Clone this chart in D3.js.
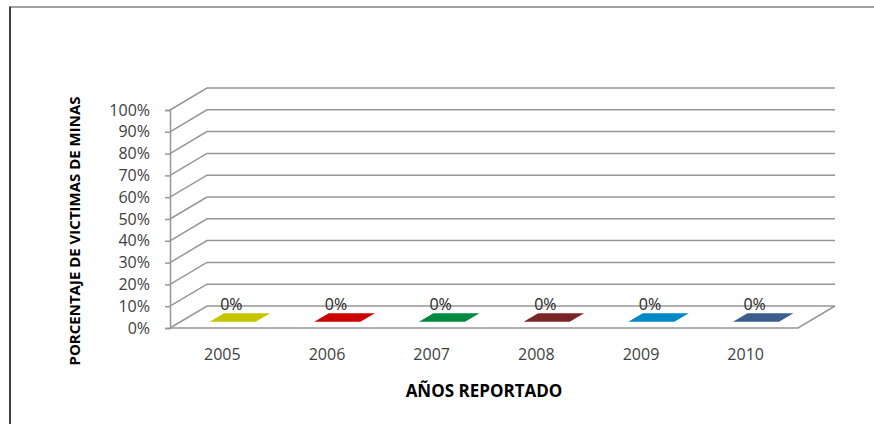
<!DOCTYPE html>
<html><head><meta charset="utf-8">
<script src="https://cdn.jsdelivr.net/npm/d3@7"></script>
<style>html,body{margin:0;padding:0;background:#fff;}svg{display:block;}</style>
</head><body>
<script>
const years = ["2005","2006","2007","2008","2009","2010"];
const values = [0,0,0,0,0,0];
const valueLabels = ["0%","0%","0%","0%","0%","0%"];
const barColors = ["#c6c600","#cc0000","#008a3e","#7b2626","#0089c6","#3b5e8c"];
const yTicks = [0,0.1,0.2,0.3,0.4,0.5,0.6,0.7,0.8,0.9,1];
const yTitle = "PORCENTAJE DE VICTIMAS DE MINAS";
const xTitle = "AÑOS REPORTADO";

const W = 874, H = 424;
const svg = d3.select("body").append("svg").attr("width", W).attr("height", H);
svg.append("rect").attr("width", W).attr("height", H).attr("fill", "#fff");

// frame
svg.append("line").attr("x1",10).attr("y1",7).attr("x2",W).attr("y2",7).attr("stroke","#808080").attr("stroke-width",1.5);
svg.append("line").attr("x1",10).attr("y1",6.5).attr("x2",10).attr("y2",H).attr("stroke","#404040").attr("stroke-width",2);

const x = d3.scaleBand().domain(years).range([170, 798]);
const xBar = d3.scaleBand().domain(years).range([170, 798]).paddingInner(0.56).paddingOuter(0.28);
const y = d3.scaleLinear().domain([0,1]).range([328, 110]);
const DX = 37, DY = -22;
const gridColor = "#969696";
const font = "'Open Sans', sans-serif";

const g = svg.append("g");
yTicks.forEach(t => {
  const yy = y(t);
  g.append("path")
    .attr("d", `M${x.range()[0]},${yy} L${x.range()[0]+DX},${yy+DY} L${x.range()[1]+DX},${yy+DY}`)
    .attr("fill","none").attr("stroke",gridColor).attr("stroke-width",1.5);
});
g.append("path")
  .attr("d", `M${x.range()[0]},${y(0)} L${x.range()[1]},${y(0)} L${x.range()[1]+DX},${y(0)+DY}`)
  .attr("fill","none").attr("stroke",gridColor).attr("stroke-width",1.5);

const yAxis = d3.axisLeft(y).tickValues(yTicks).tickFormat(d3.format(".0%")).tickSize(5).tickPadding(15);
const ya = svg.append("g").attr("transform", `translate(${x.range()[0]},0)`).call(yAxis);
ya.select(".domain").attr("stroke", gridColor).attr("stroke-width",1.5);
ya.selectAll(".tick line").attr("stroke", gridColor).attr("stroke-width",1.5);
ya.selectAll(".tick text").attr("fill","#404040").style("font-family",font).style("font-size","16px");

const f0 = 0.28, f1 = 0.67;
years.forEach((yr, i) => {
  const x0 = xBar(yr), x1 = x0 + xBar.bandwidth(), yy = y(values[i]);
  const pts = [[x0+DX*f0, yy+DY*f0],[x1+DX*f0, yy+DY*f0],[x1+DX*f1, yy+DY*f1],[x0+DX*f1, yy+DY*f1]];
  svg.append("path").attr("d", d3.line()(pts) + "Z").attr("fill", barColors[i]);
});

years.forEach((yr, i) => {
  svg.append("text").attr("x", x(yr) + x.bandwidth()/2 + 9).attr("y", y(values[i]) - 18)
    .attr("text-anchor","middle").attr("fill","#262626")
    .style("font-family",font).style("font-size","16px").text(valueLabels[i]);
});

const xAxis = d3.axisBottom(x).tickSize(0).tickPadding(21);
const xa = svg.append("g").attr("transform", `translate(0,${y(0)})`).call(xAxis);
xa.select(".domain").remove();
xa.selectAll(".tick text").attr("fill","#404040").style("font-family",font).style("font-size","16px");

svg.append("text").attr("x", 484).attr("y", 397).attr("text-anchor","middle").attr("fill","#000")
  .style("font-family",font).style("font-weight","bold").style("font-size","17px").text(xTitle);
svg.append("text").attr("transform","translate(80,231) rotate(-90)").attr("text-anchor","middle").attr("fill","#000")
  .style("font-family",font).style("font-weight","bold").style("font-size","15px").text(yTitle);
</script>
</body></html>
